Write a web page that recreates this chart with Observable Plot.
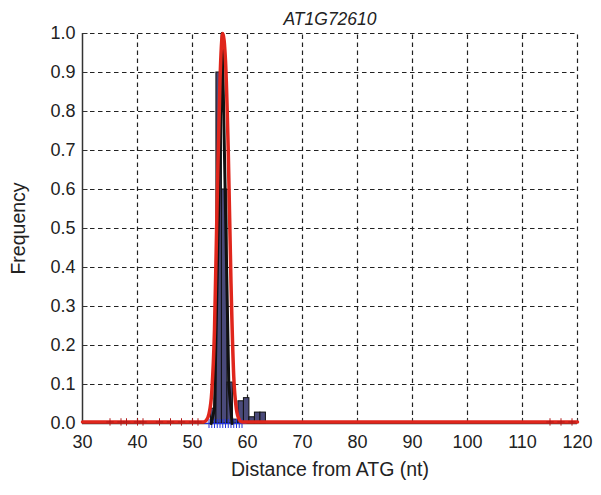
<!DOCTYPE html>
<html>
<head>
<meta charset="utf-8">
<script src="https://cdn.jsdelivr.net/npm/d3@7"></script>
<script src="https://cdn.jsdelivr.net/npm/@observablehq/plot@0.6"></script>
<style>
  html, body { margin: 0; padding: 0; background: #fff; }
  #chart { width: 601px; height: 495px; }
</style>
</head>
<body>
<div id="chart"></div>
<script>
const title = "AT1G72610";
const xLabel = "Distance from ATG (nt)";
const yLabel = "Frequency";

const xTicks = [30, 40, 50, 60, 70, 80, 90, 100, 110, 120];
const yTicks = [0, 0.1, 0.2, 0.3, 0.4, 0.5, 0.6, 0.7, 0.8, 0.9, 1.0];

// histogram bins (center, frequency)
const binCenters = [53.85, 54.85, 55.85, 56.85, 57.85, 58.85, 59.85, 60.85, 61.85, 62.85];
const binFreq    = [0.038, 0.9, 0.6, 0.105, 0.01, 0.057, 0.065, 0.016, 0.028, 0.028];

// black frequency spike
const blackX = [53.4, 54.0, 55.4, 56.6, 57.2];
const blackY = [0.0, 0.038, 1.0, 0.1, 0.0];

// red fitted curve
const redX = [30, 52, 52.5, 53, 53.5, 54, 54.5, 55, 55.5, 56, 56.5, 57, 57.5, 58, 58.5, 59, 120];
const redY = [0.004, 0.004, 0.008, 0.025, 0.08, 0.24, 0.58, 0.88, 1.0, 0.93, 0.7, 0.36, 0.12, 0.035, 0.01, 0.004, 0.004];

// blue markers at the base
const blueX = [53, 53.5, 54, 54.5, 55, 55.5, 56, 56.5, 57, 57.5, 58, 58.5, 59];
// red/dark markers along the base
const baseX = [35, 37, 38, 40, 41, 44, 46, 48, 50, 51, 115, 117, 119];

const bins = binCenters.map((c, i) => ({x1: c - 0.5, x2: c + 0.5, y: binFreq[i]}));
const black = blackX.map((x, i) => ({x, y: blackY[i]}));
const red = redX.map((x, i) => ({x, y: redY[i]}));

const chart = Plot.plot({
  width: 601,
  height: 495,
  marginLeft: 82,
  marginRight: 24,
  marginTop: 33,
  marginBottom: 72,
  style: {fontFamily: "'Liberation Sans', Arial, sans-serif", background: "#fff", color: "#222"},
  x: {domain: [30, 120], ticks: xTicks, label: null},
  y: {domain: [0, 1], ticks: yTicks, label: null},
  marks: [
    // dashed grid
    Plot.ruleX(xTicks.slice(1), {y1: 0, y2: 1, stroke: "#222", strokeWidth: 1.2, strokeDasharray: "4.5,3.5"}),
    Plot.ruleY(yTicks.slice(1), {x1: 30, x2: 120, stroke: "#222", strokeWidth: 1.2, strokeDasharray: "4.5,3.5"}),
    // inner tick marks
    Plot.ruleX(xTicks, {y1: 0, y2: 0.013, stroke: "#333"}),
    Plot.ruleY(yTicks, {x1: 30, x2: 31, stroke: "#333"}),
    // solid axes
    Plot.ruleX([30], {y1: 0, y2: 1, stroke: "#333", strokeWidth: 1.5}),
    Plot.ruleY([0], {x1: 30, x2: 120, stroke: "#333", strokeWidth: 1.5}),
    // histogram
    Plot.rectY(bins, {x1: "x1", x2: "x2", y: "y", fill: "#4a4a7a", stroke: "#111", strokeWidth: 1}),
    // blue markers
    Plot.dot(blueX, {x: d => d, y: 0, symbol: "plus", r: 3, stroke: "#2233dd", strokeWidth: 1}),
    // black spike
    Plot.line(black, {x: "x", y: "y", stroke: "#111", strokeWidth: 3}),
    // red fit
    Plot.line(red, {x: "x", y: "y", stroke: "#e0261c", strokeWidth: 3.5, curve: "monotone-x"}),
    // base markers
    Plot.dot(baseX, {x: d => d, y: 0.004, symbol: "plus", r: 2.5, stroke: "#b01818", strokeWidth: 1}),
    // axes labels
    Plot.axisX({ticks: xTicks, tickSize: 0, tickPadding: 12, fontSize: 18, tickFormat: d => d, label: null}),
    Plot.axisY({ticks: yTicks, tickSize: 0, tickPadding: 7, fontSize: 18, tickFormat: d3.format(".1f"), label: null}),
    Plot.text([title], {frameAnchor: "top", dy: -21, fontSize: 17.5, fontStyle: "italic", fill: "#222"}),
    Plot.text([xLabel], {frameAnchor: "bottom", dy: 52, fontSize: 19.5, fill: "#222"}),
    Plot.text([yLabel], {frameAnchor: "left", dx: -64, rotate: -90, textAnchor: "middle", fontSize: 19.5, fill: "#222"})
  ]
});
document.getElementById("chart").appendChild(chart);
</script>
</body>
</html>
